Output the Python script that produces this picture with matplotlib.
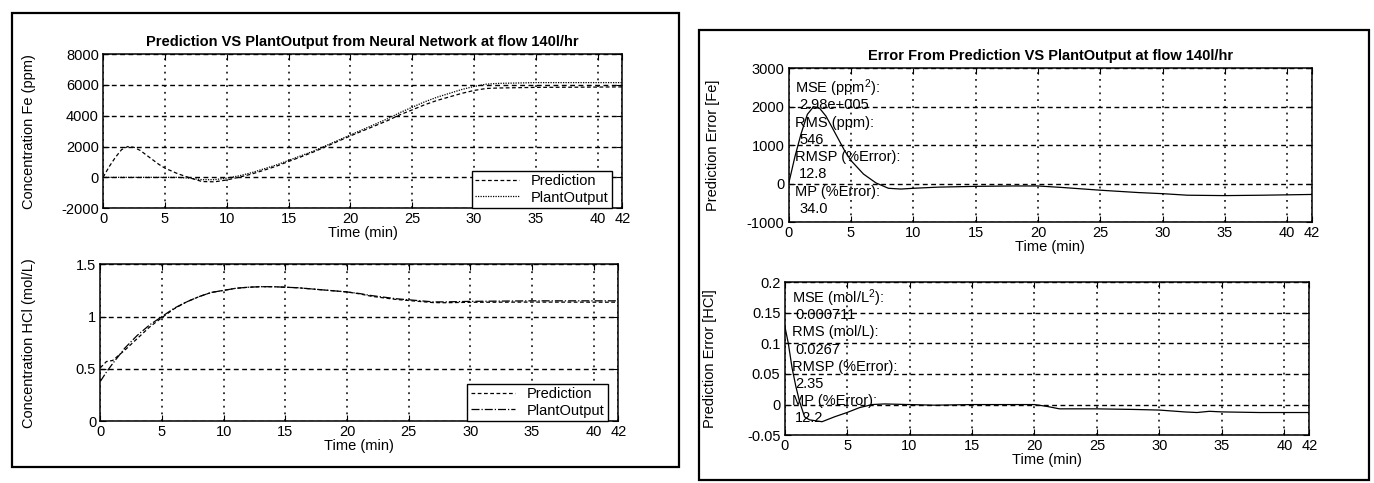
import matplotlib
matplotlib.use("Agg")
import matplotlib.pyplot as plt
from matplotlib.patches import Rectangle

plt.rcParams['font.family'] = ['Liberation Sans', 'DejaVu Sans']
plt.rcParams['mathtext.default'] = 'regular'
plt.rcParams['axes.unicode_minus'] = False
plt.rcParams['font.size'] = 10

# ---- data ----
xticks = [0, 5, 10, 15, 20, 25, 30, 35, 40, 42]

# Fe concentration (ppm)
t_fe_pred = [0, 0.5, 1, 1.5, 2, 2.5, 3, 3.5, 4, 4.5, 5, 6, 7, 8, 9, 10, 11, 12, 13, 14, 15,
             16, 17, 18, 19, 20, 21, 22, 23, 24, 25, 26, 27, 28, 29, 30, 31, 32, 35, 38, 40, 42]
fe_pred = [0, 700, 1300, 1800, 2000, 1950, 1750, 1450, 1150, 850, 600, 250, -30, -270, -290,
           -170, 10, 210, 460, 720, 1030, 1330, 1640, 1990, 2340, 2690, 3020, 3350, 3680,
           4060, 4380, 4710, 4990, 5220, 5450, 5640, 5770, 5800, 5840, 5850, 5860, 5870]
t_fe_plant = [0, 2, 4, 6, 7, 8, 9, 10, 11, 12, 13, 14, 15, 16, 17, 18, 19, 20, 21, 22, 23,
              24, 25, 26, 27, 28, 29, 30, 31, 32, 35, 40, 42]
fe_plant = [0, 0, 0, 0, -50, -150, -150, -50, 100, 300, 550, 800, 1100, 1400, 1700, 2050,
            2400, 2750, 3100, 3450, 3800, 4200, 4550, 4900, 5200, 5450, 5700, 5900, 6050,
            6100, 6150, 6150, 6150]

# HCl concentration (mol/L)
t_hcl = [0, 0.5, 1, 2, 3, 4, 5, 6, 7, 8, 9, 10, 11, 12, 13, 14, 15, 16, 17, 18, 19, 20,
         21, 22, 23, 24, 25, 26, 27, 28, 30, 35, 40, 42]
hcl_plant = [0.38, 0.47, 0.55, 0.7, 0.82, 0.92, 1.0, 1.08, 1.14, 1.19, 1.23, 1.25, 1.27,
             1.28, 1.285, 1.285, 1.28, 1.275, 1.265, 1.255, 1.245, 1.235, 1.22, 1.2, 1.185,
             1.17, 1.16, 1.15, 1.14, 1.14, 1.145, 1.15, 1.15, 1.15]
hcl_pred = [0.51, 0.57, 0.58, 0.68, 0.79, 0.9, 0.99, 1.075, 1.14, 1.19, 1.23, 1.25, 1.27,
            1.28, 1.285, 1.285, 1.28, 1.275, 1.265, 1.255, 1.245, 1.235, 1.217, 1.193, 1.178,
            1.163, 1.153, 1.143, 1.133, 1.132, 1.136, 1.138, 1.137, 1.137]

# prediction errors
t_err_fe = [0, 0.5, 1, 1.5, 2, 2.5, 3, 3.5, 4, 4.5, 5, 6, 7, 8, 9, 10, 12, 15, 18, 20, 22,
            25, 28, 30, 32, 35, 38, 40, 42]
err_fe = [0, 700, 1300, 1800, 2000, 1950, 1750, 1450, 1150, 850, 600, 250, 20, -120, -140,
          -120, -90, -70, -60, -60, -100, -170, -230, -260, -300, -310, -300, -290, -280]
t_err_hcl = [0, 0.3, 0.6, 0.9, 1.2, 1.6, 2, 3, 4, 5, 6, 7, 8, 10, 12, 15, 18, 20, 21, 22,
             25, 28, 30, 32, 33, 34, 35, 38, 42]
err_hcl = [0.13, 0.1, 0.06, 0.03, 0.005, -0.02, -0.025, -0.028, -0.02, -0.013, -0.005, 0.0,
           0.001, 0.0, -0.001, 0.0, 0.0, 0.0, -0.003, -0.007, -0.007, -0.008, -0.009, -0.012,
           -0.013, -0.011, -0.012, -0.013, -0.013]

fe_stats = ["MSE (ppm$^2$):", "2.98e+005", "RMS (ppm):", "546",
            "RMSP (%Error):", "12.8", "MP (%Error):", "34.0"]
hcl_stats = ["MSE (mol/L$^2$):", "0.000711", "RMS (mol/L):", "0.0267",
             "RMSP (%Error):", "2.35", "MP (%Error):", "12.2"]

fig = plt.figure(figsize=(13.74, 4.83), dpi=100)

# panel frames
fig.patches.append(Rectangle((0.009, 0.033), 0.485, 0.94, transform=fig.transFigure,
                             fill=False, lw=1.6, ec='black'))
fig.patches.append(Rectangle((0.509, 0.006), 0.487, 0.932, transform=fig.transFigure,
                             fill=False, lw=1.6, ec='black'))


def style(ax, ylim, yticks, ylabel, labx):
    ax.set_xlim(0, 42)
    ax.set_ylim(*ylim)
    ax.set_xticks(xticks)
    ax.set_yticks(yticks)
    ax.tick_params(direction='in', top=True, right=True, length=4, labelsize=10.5, pad=3)
    ax.xaxis.grid(True, linestyle=(0, (1.2, 3.2)), color='black', lw=1.1)
    ax.yaxis.grid(True, linestyle=(0, (3.5, 2.5)), color='black', lw=1.0)
    ax.set_xlabel("Time (min)", fontsize=10.5, labelpad=0)
    ax.set_ylabel(ylabel, fontsize=10.5)
    ax.yaxis.set_label_coords(labx, 0.5)
    for s in ax.spines.values():
        s.set_linewidth(1.1)


leg_kw = dict(loc='lower right', bbox_to_anchor=(0.98, 0.0), borderaxespad=0, fancybox=False,
              edgecolor='black', framealpha=1, fontsize=10.5, handlelength=3.0,
              borderpad=0.25, labelspacing=0.15)

# top-left: Fe
ax1 = fig.add_axes([0.075, 0.569, 0.378, 0.319])
ax1.plot(t_fe_pred, fe_pred, color='black', lw=0.9, ls=(0, (3, 2)), label='Prediction')
ax1.plot(t_fe_plant, fe_plant, color='black', lw=0.9, ls=(0, (1, 1)), label='PlantOutput')
style(ax1, (-2000, 8000), [-2000, 0, 2000, 4000, 6000, 8000], "Concentration Fe (ppm)", -0.13)
ax1.set_title("Prediction VS PlantOutput from Neural Network at flow 140l/hr",
              fontsize=10.5, fontweight='bold', pad=6)
ax1.legend(**leg_kw)

# bottom-left: HCl
ax2 = fig.add_axes([0.073, 0.128, 0.377, 0.325])
ax2.plot(t_hcl, hcl_pred, color='black', lw=0.9, ls=(0, (3, 2)), label='Prediction')
ax2.plot(t_hcl, hcl_plant, color='black', lw=0.9, ls='-.', label='PlantOutput')
style(ax2, (0, 1.5), [0, 0.5, 1, 1.5], "Concentration HCl (mol/L)", -0.125)
ax2.set_yticklabels(['0', '0.5', '1', '1.5'])
ax2.legend(**leg_kw)

# top-right: Fe error
ax3 = fig.add_axes([0.574, 0.540, 0.381, 0.319])
ax3.plot(t_err_fe, err_fe, color='black', lw=0.9)
style(ax3, (-1000, 3000), [-1000, 0, 1000, 2000, 3000], "Prediction Error [Fe]", -0.132)
ax3.set_title("Error From Prediction VS PlantOutput at flow 140l/hr",
              fontsize=10.5, fontweight='bold', pad=6)
for i, s in enumerate(fe_stats):
    ax3.text(0.012 + 0.008 * (i % 2), 0.87 - 0.112 * i, s, transform=ax3.transAxes,
             fontsize=10.5, va='center', ha='left')

# bottom-right: HCl error
ax4 = fig.add_axes([0.571, 0.099, 0.382, 0.317])
ax4.plot(t_err_hcl, err_hcl, color='black', lw=0.9)
style(ax4, (-0.05, 0.2), [-0.05, 0, 0.05, 0.1, 0.15, 0.2], "Prediction Error [HCl]", -0.128)
ax4.set_yticklabels(['-0.05', '0', '0.05', '0.1', '0.15', '0.2'])
for i, s in enumerate(hcl_stats):
    ax4.text(0.014 + 0.006 * (i % 2), 0.895 - 0.112 * i, s, transform=ax4.transAxes,
             fontsize=10.5, va='center', ha='left')

fig.savefig("out.png", dpi=100)
